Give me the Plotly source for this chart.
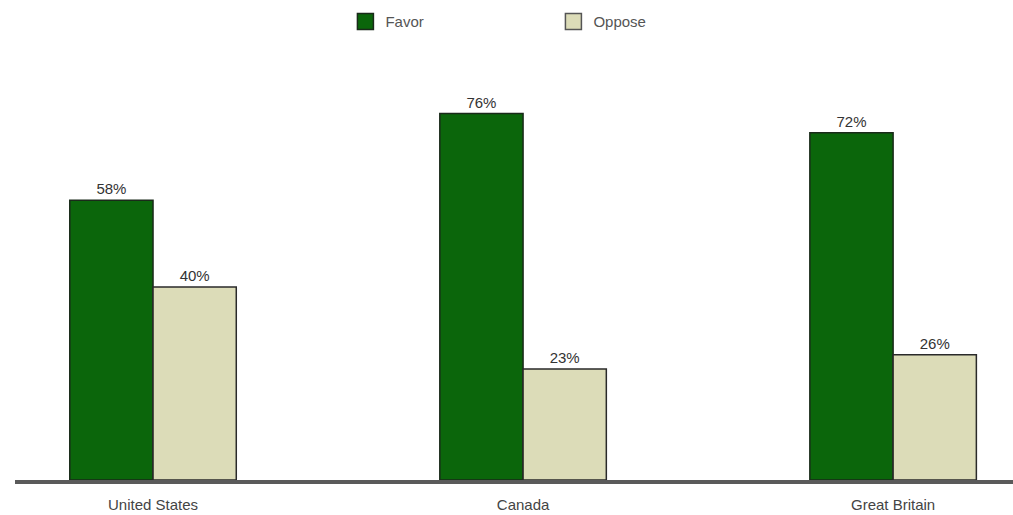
import plotly.graph_objects as go

countries = ["United States", "Canada", "Great Britain"]
favor = [58, 76, 72]
oppose = [40, 23, 26]
favor_labels = ["58%", "76%", "72%"]
oppose_labels = ["40%", "23%", "26%"]
series_names = ["Favor", "Oppose"]
favor_color = "#0b660b"
oppose_color = "#dcdcb8"

fig = go.Figure()
fig.add_trace(go.Bar(
    name=series_names[0], x=countries, y=favor, text=favor_labels,
    textposition="outside", cliponaxis=False, showlegend=False,
    marker=dict(color=favor_color, line=dict(color="#1a2a1a", width=1.5)),
    textfont=dict(color="#333333", size=15),
))
fig.add_trace(go.Bar(
    name=series_names[1], x=countries, y=oppose, text=oppose_labels,
    textposition="outside", cliponaxis=False, showlegend=False,
    marker=dict(color=oppose_color, line=dict(color="#2a2a2a", width=1.5)),
    textfont=dict(color="#333333", size=15),
))
# legend entries with larger square swatches
for nm, col, lc in [(series_names[0], favor_color, "#1a2a1a"), (series_names[1], oppose_color, "#555555")]:
    fig.add_trace(go.Scatter(
        x=[None], y=[None], mode="markers", name=nm,
        marker=dict(symbol="square", size=16, color=col, line=dict(color=lc, width=1.5)),
    ))

fig.update_layout(
    width=1013, height=515,
    margin=dict(l=15, r=0, t=60, b=35),
    paper_bgcolor="white", plot_bgcolor="white",
    barmode="group", bargap=0.55, bargroupgap=0,
    font=dict(family="Liberation Sans, Arial, sans-serif", color="#444444", size=14),
    showlegend=True,
    legend=dict(orientation="h", x=0.5395, xanchor="center", y=0.99, yref="container",
                yanchor="top", font=dict(size=15, color="#555555"),
                itemwidth=30, itemsizing="trace",
                entrywidth=163, entrywidthmode="pixels"),
    xaxis=dict(type="category", range=[-0.373, 2.324], showline=True,
               linecolor="#5a5a5a", linewidth=4, ticks="", showgrid=False,
               ticklabelstandoff=8,
               tickfont=dict(size=15, color="#444444")),
    yaxis=dict(range=[0, 87.1], visible=False, showgrid=False, zeroline=False),
)

fig.write_html("out.html")
